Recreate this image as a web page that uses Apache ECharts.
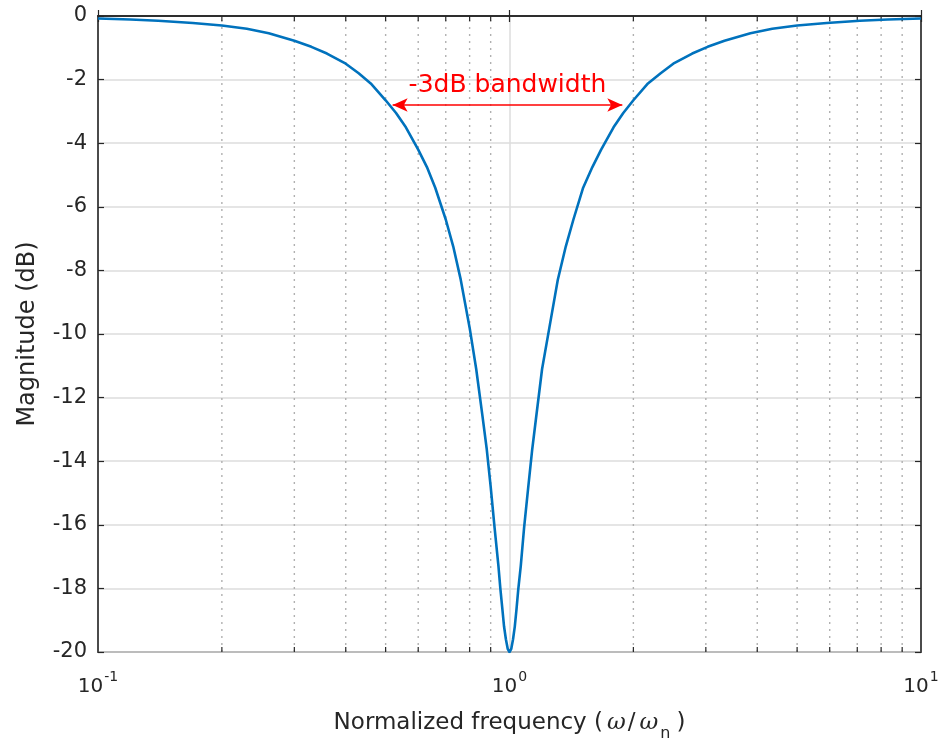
<!DOCTYPE html>
<html><head><meta charset="utf-8">
<script src="https://cdn.jsdelivr.net/npm/echarts@6/dist/echarts.min.js"></script>
<style>html,body{margin:0;padding:0;background:#fff;}#c{width:939px;height:744px;}</style>
</head><body><div id="c"></div>
<script>
// ---- data ----
const freq = [0.1, 0.12, 0.14, 0.17, 0.2, 0.23, 0.26, 0.3, 0.33, 0.36, 0.4, 0.43, 0.46, 0.5, 0.53, 0.56, 0.6, 0.63, 0.66, 0.7, 0.73, 0.76, 0.8, 0.83, 0.86, 0.88, 0.9, 0.92, 0.94, 0.95, 0.96, 0.97, 0.98, 0.99, 1.0,
  1.01, 1.02, 1.03, 1.04, 1.05, 1.065, 1.085, 1.11, 1.135, 1.16, 1.2, 1.25, 1.31, 1.37, 1.43, 1.51, 1.59, 1.67, 1.79, 1.89, 2.0, 2.17, 2.33, 2.5, 2.78, 3.03, 3.33, 3.85, 4.35, 5.0, 5.9, 7.1, 8.3, 10];
const magDb = [-0.08, -0.11, -0.15, -0.22, -0.3, -0.4, -0.54, -0.78, -0.97, -1.18, -1.5, -1.8, -2.12, -2.65, -3.05, -3.5, -4.2, -4.75, -5.4, -6.4, -7.25, -8.25, -9.8, -11.1, -12.6, -13.6, -14.8, -16.1, -17.3, -18.0, -18.6, -19.2, -19.6, -19.9, -20,
  -19.9, -19.6, -19.2, -18.65, -18.05, -17.3, -16.1, -14.85, -13.65, -12.65, -11.1, -9.8, -8.3, -7.25, -6.4, -5.4, -4.75, -4.2, -3.5, -3.05, -2.65, -2.12, -1.8, -1.5, -1.18, -0.97, -0.78, -0.54, -0.4, -0.3, -0.22, -0.15, -0.11, -0.08];
const minorTicks = [0.2, 0.3, 0.4, 0.5, 0.6, 0.7, 0.8, 0.9, 2, 3, 4, 5, 6, 7, 8, 9];
const xRange = [0.1, 10];
const yRange = [-20, 0];
const yInterval = 2;
const bandwidthEdges = [0.52, 1.88];
const bandwidthLevel = -2.8;
const bandwidthLabel = '-3dB bandwidth';
const xTitle = 'Normalized frequency';
const yTitle = 'Magnitude (dB)';

const FONT = "'DejaVu Sans', 'Liberation Sans', Arial, sans-serif";
const AX = '#262626';
const chart = echarts.init(document.getElementById('c'), null, {renderer: 'canvas'});
const curve = freq.map((f, i) => [f, magDb[i]]);

chart.setOption({
  animation: false,
  backgroundColor: '#fff',
  grid: {left: 98, right: 18, top: 16, bottom: 92, containLabel: false, outerBoundsMode: 'none',
    show: true, borderColor: AX, borderWidth: 1.5, backgroundColor: 'transparent'},
  xAxis: [{
    type: 'log', logBase: 10, min: xRange[0], max: xRange[1],
    position: 'bottom',
    axisLine: {show: true, lineStyle: {color: AX, width: 1.5}},
    axisTick: {show: true, inside: true, length: 6, lineStyle: {color: AX, width: 1.2}},
    splitLine: {show: true, lineStyle: {color: '#dcdcdc', width: 1.5}},
    axisLabel: {
      show: true, margin: 15, showMinLabel: true, showMaxLabel: true,
      formatter: v => '{b|10}{s|' + Math.round(Math.log10(v)) + '}',
      rich: {
        b: {fontSize: 20, fontFamily: FONT, color: AX, verticalAlign: 'bottom', lineHeight: 30},
        s: {fontSize: 14, fontFamily: FONT, color: AX, verticalAlign: 'bottom', padding: [0, 0, 13, 1], lineHeight: 30}
      }
    },
    name: '{t|' + xTitle + ' (}{i|ω}{t|/}{i|ω}{n|n}{t|)}',
    nameLocation: 'middle', nameGap: 60,
    nameTextStyle: {
      rich: {
        t: {fontSize: 23, fontFamily: FONT, color: AX, verticalAlign: 'top', lineHeight: 30},
        i: {fontSize: 23, fontFamily: "'DejaVu Serif', 'Liberation Serif', serif", fontStyle: 'italic', color: AX, verticalAlign: 'top', lineHeight: 30, padding: [0, 2, 0, 4]},
        n: {fontSize: 16, fontFamily: FONT, color: AX, verticalAlign: 'top', padding: [14, 6, 0, 0], lineHeight: 30}
      }
    }
  }, {
    type: 'log', logBase: 10, min: xRange[0], max: xRange[1],
    position: 'top',
    axisLine: {show: true, lineStyle: {color: AX, width: 1.5}},
    axisTick: {show: true, inside: true, length: 6, lineStyle: {color: AX, width: 1.2}},
    splitLine: {show: false}, axisLabel: {show: false}
  }],
  yAxis: [{
    type: 'value', min: yRange[0], max: yRange[1], interval: yInterval,
    position: 'left',
    axisLine: {show: true, lineStyle: {color: AX, width: 1.5}},
    axisTick: {show: true, inside: true, length: 6, lineStyle: {color: AX, width: 1.2}},
    splitLine: {show: true, lineStyle: {color: '#dcdcdc', width: 1.5}},
    axisLabel: {margin: 11, fontSize: 21, fontFamily: FONT, color: AX},
    name: yTitle, nameLocation: 'middle', nameGap: 58, nameRotate: 90,
    nameTextStyle: {fontSize: 24, fontFamily: FONT, color: AX}
  }, {
    type: 'value', min: yRange[0], max: yRange[1], interval: yInterval,
    position: 'right',
    axisLine: {show: true, lineStyle: {color: AX, width: 1.5}},
    axisTick: {show: true, inside: true, length: 6, lineStyle: {color: AX, width: 1.2}},
    splitLine: {show: false}, axisLabel: {show: false}
  }],
  series: [{
    type: 'custom', xAxisIndex: 0, yAxisIndex: 0, z: 1, silent: true,
    data: minorTicks.map(v => [v, yRange[0]]),
    encode: {x: 0, y: 1},
    renderItem: function (params, api) {
      const x = api.value(0);
      const b = api.coord([x, yRange[0]]);
      const t = api.coord([x, yRange[1]]);
      return {type: 'group', children: [
        {type: 'line', shape: {x1: b[0], y1: b[1], x2: t[0], y2: t[1]}, style: {stroke: '#b0b0b0', lineWidth: 1.4, lineDash: [2, 5]}},
        {type: 'line', shape: {x1: b[0], y1: b[1], x2: b[0], y2: b[1] - 5}, style: {stroke: AX, lineWidth: 1.2}},
        {type: 'line', shape: {x1: t[0], y1: t[1], x2: t[0], y2: t[1] + 5}, style: {stroke: AX, lineWidth: 1.2}}
      ]};
    }
  }, {
    type: 'line', xAxisIndex: 0, yAxisIndex: 0, z: 5,
    data: curve, showSymbol: false, symbol: 'none',
    smooth: false,
    lineStyle: {color: '#0072BD', width: 2.6, join: 'round'},
    markLine: {
      silent: true, symbol: ['arrow', 'arrow'], symbolSize: [10, 15],
      lineStyle: {color: '#ff0000', width: 1.6, type: 'solid'},
      label: {show: true, position: 'middle', formatter: bandwidthLabel, color: '#ff0000', fontSize: 25, fontFamily: FONT, distance: 7},
      data: [[{coord: [bandwidthEdges[0], bandwidthLevel]}, {coord: [bandwidthEdges[1], bandwidthLevel]}]]
    }
  }]
});
</script></body></html>
